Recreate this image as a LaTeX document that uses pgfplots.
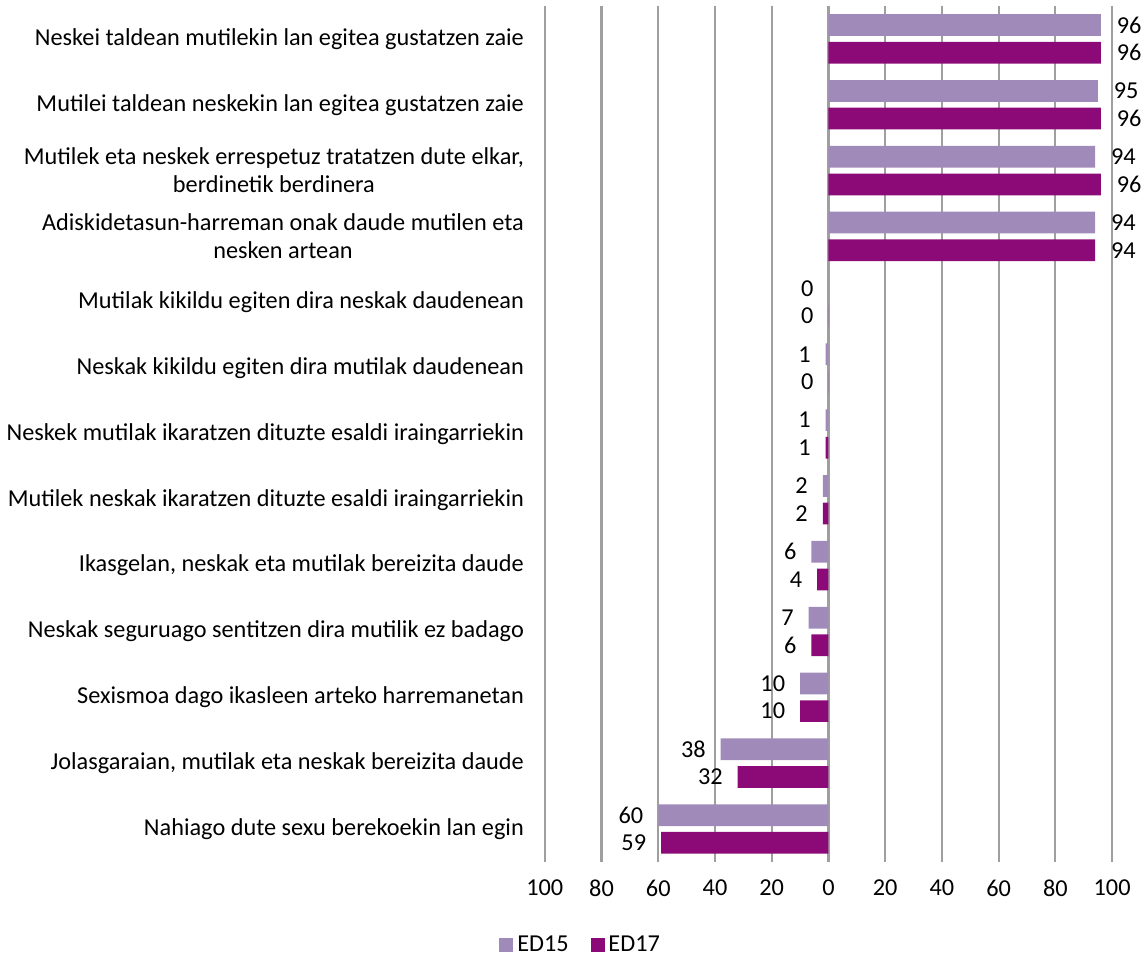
\documentclass[border=0pt]{standalone}
\usepackage{pgfplots}
\pgfplotsset{compat=1.18}
\usepackage{fontspec}
\setmainfont{Carlito}
\definecolor{edA}{HTML}{A08AB9}
\definecolor{edB}{HTML}{8C0A78}
\pgfplotstableread{
y a b
0 96 96
1 95 96
2 94 96
3 94 94
4 0 0
5 -1 0
6 -1 -1
7 -2 -2
8 -6 -4
9 -7 -6
10 -10 -10
11 -38 -32
12 -60 -59
}\datatable
\begin{document}
\begin{tikzpicture}[font=\fontsize{12.2}{14}\selectfont]
\begin{axis}[
  name=main,
  scale only axis, width=285pt, height=430pt,
  xbar,
  y dir=reverse,
  xmin=-100, xmax=100, ymin=-0.5, ymax=12.5,
  xtick={-100,-80,...,100},
  xticklabels={100,80,60,40,20,0,20,40,60,80,100},
  xticklabel style={yshift=-5.5pt},
  ytick={0,...,12},
  yticklabels={
    Neskei taldean mutilekin lan egitea gustatzen zaie,
    Mutilei taldean neskekin lan egitea gustatzen zaie,
    {Mutilek eta neskek errespetuz tratatzen dute elkar,\\berdinetik berdinera},
    {Adiskidetasun-harreman onak daude mutilen eta\\nesken artean},
    Mutilak kikildu egiten dira neskak daudenean,
    Neskak kikildu egiten dira mutilak daudenean,
    Neskek mutilak ikaratzen dituzte esaldi iraingarriekin,
    Mutilek neskak ikaratzen dituzte esaldi iraingarriekin,
    {Ikasgelan, neskak eta mutilak bereizita daude},
    Neskak seguruago sentitzen dira mutilik ez badago,
    Sexismoa dago ikasleen arteko harremanetan,
    {Jolasgaraian, mutilak eta neskak bereizita daude},
    Nahiago dute sexu berekoekin lan egin},
  yticklabel style={align=center, xshift=-7pt},
  xmajorgrids,
  major grid style={draw=gray!75, line width=1.1pt},
  axis line style={draw=none},
  major tick length=0pt,
  /pgf/number format/assume math mode=true,
  bar width=0.33,
  visualization depends on={rawx \as \rx},
  nodes near coords={\pgfmathparse{abs(\rx)}\pgfmathprintnumber{\pgfmathresult}},
  every node near coord/.append style={/utils/exec={\ifdim\rx pt>0pt \gdef\myanchor{west}\gdef\myxs{4.5pt}\else\gdef\myanchor{east}\gdef\myxs{-4pt}\fi}, anchor=\myanchor, xshift=\myxs, text=black},
  legend style={at={(0.065,-0.097)}, anchor=center, legend columns=2, draw=none, fill=none,
    /tikz/every even column/.append style={column sep=9pt}},
  legend image code/.code={\fill[#1] (0cm,-0.12cm) rectangle (0.245cm,0.125cm);},
]
\addplot[draw=none, fill=edA, bar shift=-0.21] table[x=a, y=y] {\datatable};
\addlegendentry{ED15}
\addplot[draw=none, fill=edB, bar shift=0.21] table[x=b, y=y] {\datatable};
\addlegendentry{ED17}
\end{axis}
\path ([yshift=3pt]main.north) -- ([yshift=-2pt]main.south);
\end{tikzpicture}
\end{document}
